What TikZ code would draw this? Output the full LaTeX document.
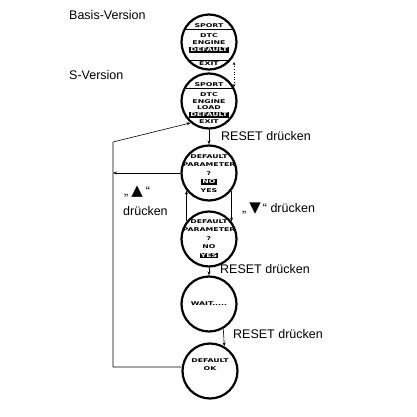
\documentclass[tikz,border=0pt]{standalone}
\usepackage{fontspec}
\usepackage{graphicx}
\setmainfont{Liberation Sans}
\newfontfamily\lcd{DejaVu Sans}
\newfontfamily\sym{DejaVu Sans}
\newcommand{\lcdt}[1]{\scalebox{1.5}[1]{#1}}
\usetikzlibrary{arrows.meta,calc}
\begin{document}
\begin{tikzpicture}[x=1pt,y=-1pt,
  screen/.style={circle,draw,line width=2.2pt,minimum size=55pt,inner sep=0pt},
  lcdtext/.style={font=\lcd\bfseries\fontsize{5.2}{6}\selectfont,inner sep=0pt},
  inv/.style={lcdtext,fill=black,text=white,inner xsep=1pt,inner ysep=0.8pt},
  lbl/.style={font=\fontsize{12.5}{14}\selectfont,anchor=west,inner sep=0pt},
  arr/.style={-{Stealth[length=4pt,width=3pt]},line width=0.6pt},
  dotarr/.style={{Stealth[length=3pt,width=2.5pt]}-{Stealth[length=3pt,width=2.5pt]},line width=0.6pt,dotted},
  chord/.style={line width=0.9pt}]
\useasboundingbox (0,0) rectangle (416,417);

% titles
\node[lbl] (basis) at (69,15) {Basis-Version};
\node[lbl] (sver) at (69,75) {S-Version};

% screen 1
\node[screen,path picture={
  \draw[chord] ($(path picture bounding box.center)+(-40,-13)$) -- ++(80,0);
  \draw[chord] ($(path picture bounding box.center)+(-40,18)$) -- ++(80,0);}] (c1) at (209,42) {};
\node[lcdtext] (c1a) at ($(c1.center)+(0,-16)$) {\lcdt{SPORT}};
\node[lcdtext] (c1b) at ($(c1.center)+(0,-6)$) {\lcdt{DTC}};
\node[lcdtext] (c1c) at ($(c1.center)+(0,1)$) {\lcdt{ENGINE}};
\node[inv] (c1d) at ($(c1.center)+(0,8)$) {\lcdt{DEFAULT}};
\node[lcdtext] (c1e) at ($(c1.center)+(0,22)$) {\lcdt{EXIT}};

% screen 2
\node[screen,path picture={
  \draw[chord] ($(path picture bounding box.center)+(-40,-13)$) -- ++(80,0);}] (c2) at (209,101) {};
\node[lcdtext] (c2a) at ($(c2.center)+(0,-16)$) {\lcdt{SPORT}};
\node[lcdtext] (c2b) at ($(c2.center)+(0,-6)$) {\lcdt{DTC}};
\node[lcdtext] (c2c) at ($(c2.center)+(0,0.5)$) {\lcdt{ENGINE}};
\node[lcdtext] (c2d) at ($(c2.center)+(0,7)$) {\lcdt{LOAD}};
\node[inv] (c2e) at ($(c2.center)+(0,14)$) {\lcdt{DEFAULT}};
\node[lcdtext] (c2f) at ($(c2.center)+(0,21)$) {\lcdt{EXIT}};

% screen 3
\node[screen] (c3) at (209,173) {};
\node[lcdtext] (c3a) at ($(c3.center)+(0,-16.5)$) {\lcdt{DEFAULT}};
\node[lcdtext] (c3b) at ($(c3.center)+(0,-8)$) {\lcdt{PARAMETER}};
\node[lcdtext] (c3c) at ($(c3.center)+(0,0.5)$) {\lcdt{?}};
\node[inv] (c3d) at ($(c3.center)+(0,9)$) {\lcdt{NO}};
\node[lcdtext] (c3e) at ($(c3.center)+(0,17.5)$) {\lcdt{YES}};

% screen 4
\node[screen] (c4) at (209,239) {};
\node[lcdtext] (c4a) at ($(c4.center)+(0,-17.5)$) {\lcdt{DEFAULT}};
\node[lcdtext] (c4b) at ($(c4.center)+(0,-9)$) {\lcdt{PARAMETER}};
\node[lcdtext] (c4c) at ($(c4.center)+(0,-0.5)$) {\lcdt{?}};
\node[lcdtext] (c4d) at ($(c4.center)+(0,8)$) {\lcdt{NO}};
\node[inv] (c4e) at ($(c4.center)+(0,16.5)$) {\lcdt{YES}};

% screen 5
\node[screen] (c5) at (209,304) {};
\node[lcdtext] (c5a) at (c5.center) {\lcdt{WAIT.....}};

% screen 6
\node[screen] (c6) at (210,371) {};
\node[lcdtext] (c6a) at ($(c6.center)+(0,-10)$) {\lcdt{DEFAULT}};
\node[lcdtext] (c6b) at ($(c6.center)+(0,-2)$) {\lcdt{OK}};

% dotted connection basis -> S
\coordinate (d1) at (234,62);
\coordinate (d2) at (234,87);
\draw[dotarr] (d2) -- (d1);

% reset arrows
\draw[arr] (c2.south) -- (c3.north);
\draw[arr] (c4.south) -- (c5.north);
\draw[arr] (c5.300) -- (c6.60);
\draw[arr] (c4.142) -- (c3.218);
\draw[arr] (c3.322) -- (c4.38);

% loop back
\coordinate (l1) at (113,367);
\coordinate (l2) at (113,142);
\draw[arr] (c6.west |- l1) -- (l1) -- (l2) -- (c2.230);
\draw[arr] (c3.west) -- (c3.west -| l1);

% labels
\node[lbl] (r1) at (221,136) {RESET drücken};
\node[lbl] (r2) at (220,269) {RESET drücken};
\node[lbl] (r3) at (233,334) {RESET drücken};
\node[lbl] (up) at (124,192) {„\hspace{3pt}{\sym\fontsize{15}{15}\selectfont ▲}\hspace{3pt}“};
\node[lbl] (upd) at (123,211) {drücken};
\node[lbl] (dn) at (242,209) {„\hspace{3pt}{\sym\fontsize{15}{15}\selectfont ▼}\hspace{2pt}“ drücken};
\end{tikzpicture}
\end{document}
